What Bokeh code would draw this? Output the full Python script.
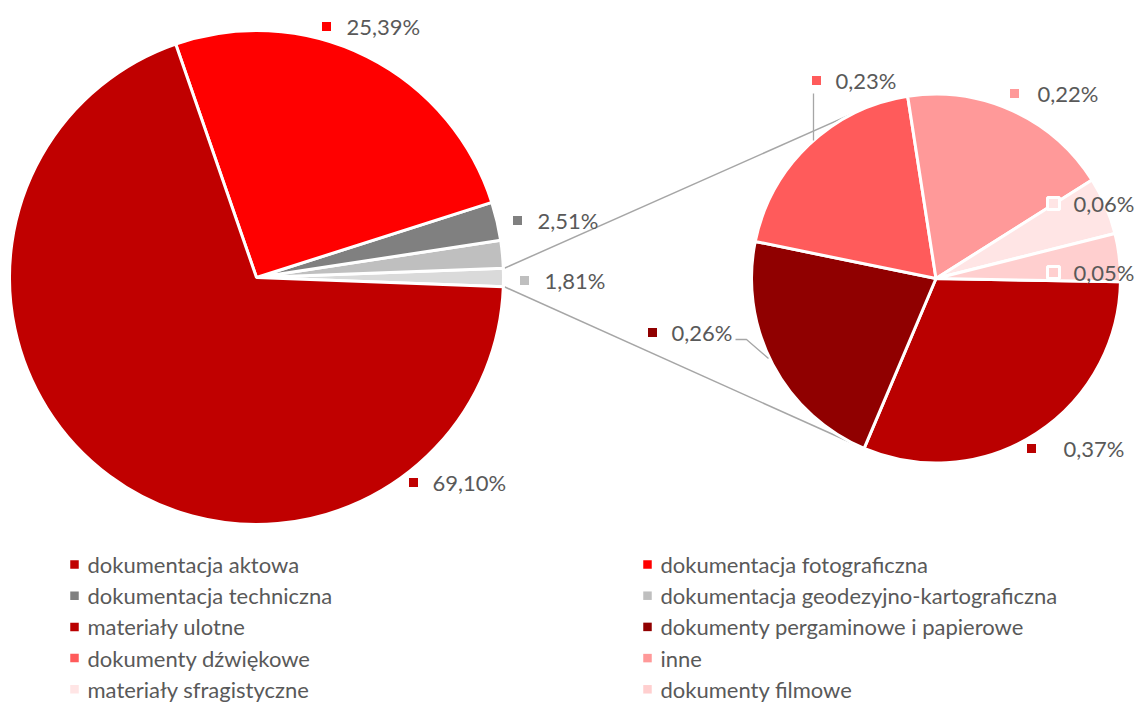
import math
from bokeh.plotting import figure
from bokeh.models import Range1d
from bokeh.core.properties import value
from bokeh.embed import file_html
from bokeh.resources import INLINE

# ---------------- data ----------------
main_categories = ["dokumentacja aktowa", "dokumentacja fotograficzna",
                   "dokumentacja techniczna", "dokumentacja geodezyjno-kartograficzna"]
main_values = [69.10, 25.39, 2.51, 1.81]

sub_categories = ["materiały ulotne", "dokumenty pergaminowe i papierowe",
                  "dokumenty dźwiękowe", "inne", "materiały sfragistyczne", "dokumenty filmowe"]
sub_values = [0.37, 0.26, 0.23, 0.22, 0.06, 0.05]

# ---------------- style ----------------
main_colors = ["#C00000", "#FF0000", "#808080", "#BFBFBF"]
other_color = "#DADADA"
sub_colors = ["#BA0000", "#900000", "#FF5B5B", "#FF9999", "#FFE5E5", "#FFCFCF"]
TEXT_COLOR = "#595959"
LINE_COLOR = "#A6A6A6"
FONT = "Lato"
FSIZE = "22px"

W, H = 1136, 702
C1 = (256.0, 425.0)   # main pie centre
R1 = 247.0
C2 = (935.5, 424.0)   # secondary pie centre
R2 = 184.5
SUB_START = -1.0      # degrees, first boundary of secondary pie

p = figure(width=W, height=H, x_range=Range1d(0, W), y_range=Range1d(0, H),
           x_axis_type=None, y_axis_type=None, output_backend="svg",
           toolbar_location=None, min_border=0)
p.grid.visible = False
p.outline_line_color = None
p.background_fill_color = "white"

def fmt(v):
    return ("%.2f" % v).replace(".", ",") + "%"

other_value = sum(sub_values)
h = other_value * 3.6 / 2.0

# ---------------- connector lines (drawn first) ----------------
def tangent(P, top):
    dx, dy = P[0] - C2[0], P[1] - C2[1]
    d = math.hypot(dx, dy)
    th = math.atan2(dy, dx)
    a = math.acos(R2 / d)
    ang = th - a if top else th + a
    return (C2[0] + R2 * math.cos(ang), C2[1] + R2 * math.sin(ang))

P_top = (C1[0] + (R1 + 1) * math.cos(math.radians(h)), C1[1] + (R1 + 1) * math.sin(math.radians(h)))
P_bot = (C1[0] + (R1 + 1) * math.cos(math.radians(-h)), C1[1] + (R1 + 1) * math.sin(math.radians(-h)))
T_top = tangent(P_top, True)
T_bot = tangent(P_bot, False)
p.segment(x0=[P_top[0], P_bot[0]], y0=[P_top[1], P_bot[1]],
          x1=[T_top[0], T_bot[0]], y1=[T_top[1], T_bot[1]],
          line_color=LINE_COLOR, line_width=1.5)

# ---------------- main pie ----------------
starts, ends, cols = [-h], [h], [other_color]
a = h
for i in [3, 2, 1, 0]:
    deg = main_values[i] * 3.6
    starts.append(a); ends.append(a + deg); cols.append(main_colors[i])
    a += deg
p.wedge(x=C1[0], y=C1[1], radius=R1,
        start_angle=[math.radians(x) for x in starts],
        end_angle=[math.radians(x) for x in ends],
        direction="anticlock", fill_color=cols,
        line_color="white", line_width=3)

# ---------------- secondary pie ----------------
tot = sum(sub_values)
starts2, ends2 = [], []
s = SUB_START
for v in sub_values:
    deg = v / tot * 360.0
    starts2.append(s - deg); ends2.append(s)
    s -= deg
p.wedge(x=C2[0], y=C2[1], radius=R2,
        start_angle=[math.radians(x) for x in starts2],
        end_angle=[math.radians(x) for x in ends2],
        direction="anticlock", fill_color=sub_colors,
        line_color="white", line_width=3)

# ---------------- leader lines ----------------
leaders = [
    [(-122.5, 185), (-122.5, 138)],
    [(-200.5, -61), (-189.5, -61), (-167.5, -80)],
]
for pts in leaders:
    p.line(x=[C2[0] + q[0] for q in pts], y=[C2[1] + q[1] for q in pts],
           line_color=LINE_COLOR, line_width=1.3)

# ---------------- data labels ----------------
main_label_offsets = [(157, -205), (70, 251), (261, 57), (268, -3)]
main_label_gaps = [19, 20, 20, 20]
sub_label_offsets = [(95.5, -170), (-283.5, -54), (-119.5, 198), (78.5, 185), (117.5, 75), (117.5, 6)]
sub_label_gaps = [32, 19, 19, 23, 20, 20]

lx, ly, lc, tx, ty, tt = [], [], [], [], [], []
for i, v in enumerate(main_values):
    ox, oy = main_label_offsets[i]
    lx.append(C1[0] + ox); ly.append(C1[1] + oy); lc.append(main_colors[i])
    tx.append(C1[0] + ox + main_label_gaps[i]); ty.append(C1[1] + oy); tt.append(fmt(v))
for i, v in enumerate(sub_values):
    ox, oy = sub_label_offsets[i]
    lx.append(C2[0] + ox); ly.append(C2[1] + oy); lc.append(sub_colors[i])
    tx.append(C2[0] + ox + sub_label_gaps[i]); ty.append(C2[1] + oy); tt.append(fmt(v))

p.scatter(x=lx, y=ly, marker="square", size=12, fill_color=lc,
          line_color="white", line_width=3)
p.text(x=tx, y=ty, text=tt, text_font=value(FONT), text_font_size=FSIZE,
       text_color=TEXT_COLOR, text_baseline="middle", text_align="left")

# ---------------- legend ----------------
leg_names = main_categories + sub_categories
leg_colors = main_colors + sub_colors
col_x = [74, 647]
row_y0, row_dy = 138, 31.2
mx, my, tx2, ty2 = [], [], [], []
for k, name in enumerate(leg_names):
    c = k % 2
    r = k // 2
    mx.append(col_x[c]); my.append(row_y0 - r * row_dy)
    tx2.append(col_x[c] + 13); ty2.append(row_y0 - r * row_dy)
p.scatter(x=mx, y=my, marker="square", size=8.5, fill_color=leg_colors, line_color=None)
p.text(x=tx2, y=ty2, text=leg_names, text_font=value(FONT), text_font_size=FSIZE,
       text_color=TEXT_COLOR, text_baseline="middle", text_align="left")

open("out.html", "w").write(file_html(p, INLINE))
